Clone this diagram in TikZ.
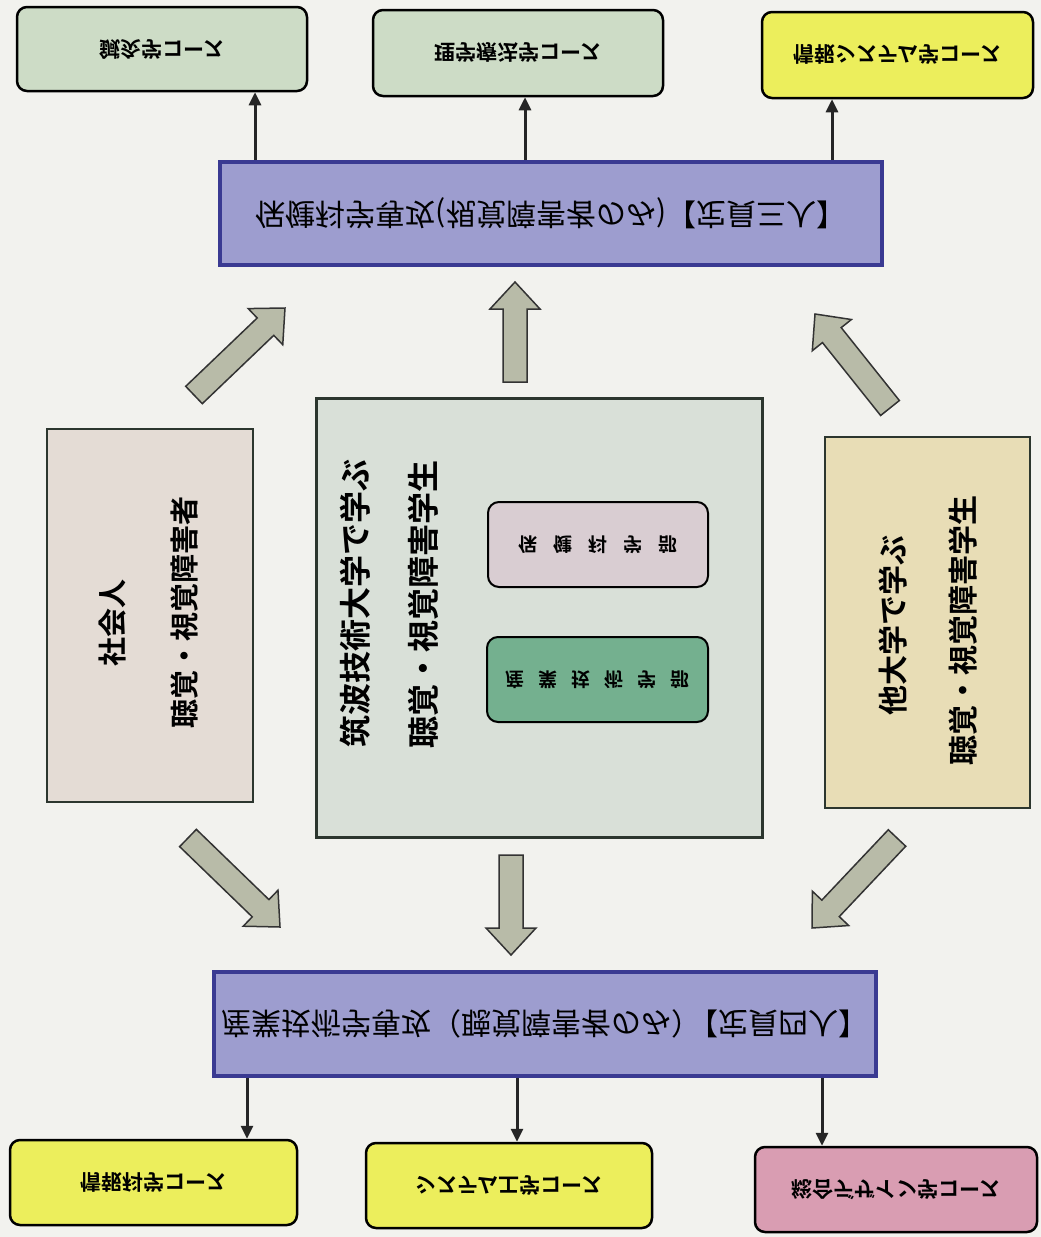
\documentclass[tikz,border=0pt]{standalone}
\usepackage{fontspec}
\usepackage{graphicx}
\usetikzlibrary{calc,arrows.meta}
\newfontfamily\jp{Noto Sans CJK JP}[BoldFont={Noto Sans CJK JP Bold}]
\definecolor{paper}{HTML}{F2F2EE}
\definecolor{greencourse}{HTML}{CDDCC6}
\definecolor{yellowcourse}{HTML}{ECEE5C}
\definecolor{pinkcourse}{HTML}{D99DB2}
\definecolor{majorfill}{HTML}{9D9DCF}
\definecolor{majorborder}{HTML}{3A3A92}
\definecolor{leftfill}{HTML}{E4DCD5}
\definecolor{rightfill}{HTML}{E8DDB6}
\definecolor{centerfill}{HTML}{D9E0D8}
\definecolor{boxborder}{HTML}{2C362E}
\definecolor{hokenfill}{HTML}{D9CDD2}
\definecolor{sangyofill}{HTML}{74B08F}
\definecolor{arrowfill}{HTML}{B8BBA8}
\newcommand{\flipv}[1]{\rotatebox[origin=c]{180}{\reflectbox{#1}}}
\newcommand{\blockarrow}[2]{%
  \coordinate (#1base) at ($(#2)!27pt!(#1)$);
  \draw[blk] ($(#1)!12pt!90:(#2)$) -- ($(#1base)!12pt!90:(#2)$) --
    ($(#1base)!25pt!90:(#2)$) -- (#2) -- ($(#1base)!25pt!-90:(#2)$) --
    ($(#1base)!12pt!-90:(#2)$) -- ($(#1)!12pt!-90:(#2)$) -- cycle;}
\begin{document}
\begin{tikzpicture}[x=1pt,y=-1pt,
  coursebox/.style={draw=black, line width=2.5pt, rounded corners=10pt, inner sep=0pt,
    font=\jp\bfseries\fontsize{21}{25}\selectfont},
  majorbox/.style={draw=majorborder, line width=4.5pt, fill=majorfill, inner sep=0pt,
    font=\jp\fontsize{30}{34}\selectfont},
  groupbox/.style={draw=boxborder, line width=1.5pt, inner sep=0pt},
  facbox/.style={draw=black, line width=2pt, rounded corners=11pt, inner sep=0pt,
    font=\jp\bfseries\fontsize{19}{23}\selectfont},
  vtext/.style={rotate=90, inner sep=0pt, font=\jp\bfseries\fontsize{29}{34}\selectfont},
  thinarrow/.style={-{Triangle[length=13pt,width=12pt]}, line width=3pt, draw=black!85},
  blk/.style={fill=arrowfill, draw=black!80, line width=1.5pt, line join=miter}]
\useasboundingbox[fill=paper] (0,0) rectangle (1041,1237);

% top courses
\node[coursebox, fill=greencourse, minimum width=290, minimum height=84] (c1) at (162,49) {\flipv{鍼灸学コース}};
\node[coursebox, fill=greencourse, minimum width=290, minimum height=86] (c2) at (518,53) {\flipv{理学療法学コース}};
\node[coursebox, fill=yellowcourse, minimum width=271, minimum height=86] (c3) at (897.5,55) {\flipv{情報システム学コース}};

% top major
\node[majorbox, minimum width=662, minimum height=103] (H) at (551,213.5) {\flipv{保健科学専攻(視覚障害者のみ)【定員三人】}};

\coordinate (xa1) at (255,0);
\coordinate (xa2) at (525,0);
\coordinate (xa3) at (832,0);
\draw[thinarrow] (xa1 |- H.north) -- (xa1 |- c1.south);
\draw[thinarrow] (xa2 |- H.north) -- (xa2 |- c2.south);
\draw[thinarrow] (xa3 |- H.north) -- (xa3 |- c3.south);

% left group
\node[groupbox, fill=leftfill, minimum width=206, minimum height=373] (L) at (150,615.5) {};
\node[vtext] (L1) at (113,623) {社会人};
\node[vtext] (L2) at (185,612) {聴覚・視覚障害者};

% center group
\node[groupbox, fill=centerfill, line width=3pt, minimum width=446, minimum height=439] (C) at (539,617.5) {};
\node[vtext, font=\jp\bfseries\fontsize{32}{36}\selectfont] (C1) at (355,603) {筑波技術大学で学ぶ};
\node[vtext, font=\jp\bfseries\fontsize{32}{36}\selectfont] (C2) at (423,604) {聴覚・視覚障害学生};
\node[facbox, fill=hokenfill, minimum width=220, minimum height=85] (P1) at (598,544.5)
  {\flipv{保\hspace{16pt}健\hspace{16pt}科\hspace{16pt}学\hspace{16pt}部}};
\node[facbox, fill=sangyofill, minimum width=221, minimum height=85] (P2) at (597.5,679.5)
  {\flipv{産\hspace{14pt}業\hspace{14pt}技\hspace{14pt}術\hspace{14pt}学\hspace{14pt}部}};

% right group
\node[groupbox, fill=rightfill, minimum width=205, minimum height=371] (R) at (927.5,622.5) {};
\node[vtext, font=\jp\bfseries\fontsize{30}{35}\selectfont] (R1) at (893,625) {他大学で学ぶ};
\node[vtext, font=\jp\bfseries\fontsize{30}{35}\selectfont] (R2) at (963,630) {聴覚・視覚障害学生};

% bottom major
\node[majorbox, minimum width=662, minimum height=104] (S) at (545,1024) {\flipv{産業技術学専攻（聴覚障害者のみ）\kern-0.45em【定員四人】}};

% bottom courses
\node[coursebox, fill=yellowcourse, minimum width=287, minimum height=85] (d1) at (153.5,1182.5) {\flipv{情報科学コース}};
\node[coursebox, fill=yellowcourse, minimum width=286, minimum height=85] (d2) at (509,1185.5) {\flipv{システム工学コース}};
\node[coursebox, fill=pinkcourse, minimum width=282, minimum height=85] (d3) at (896,1189.5) {\flipv{総合デザイン学コース}};

\coordinate (xb1) at (247,0);
\coordinate (xb2) at (517,0);
\coordinate (xb3) at (822,0);
\draw[thinarrow] (xb1 |- S.south) -- (xb1 |- d1.north);
\draw[thinarrow] (xb2 |- S.south) -- (xb2 |- d2.north);
\draw[thinarrow] (xb3 |- S.south) -- (xb3 |- d3.north);

% block arrows
\coordinate (A1t) at (194,395);  \coordinate (A1h) at (285,308);
\coordinate (A2t) at (515,382);  \coordinate (A2h) at (515,282);
\coordinate (A3t) at (890,408);  \coordinate (A3h) at (815,314);
\coordinate (A4t) at (188,838);  \coordinate (A4h) at (280,927);
\coordinate (A5t) at (511,855);  \coordinate (A5h) at (511,955);
\coordinate (A6t) at (897,838);  \coordinate (A6h) at (812,928);
\blockarrow{A1t}{A1h}
\blockarrow{A2t}{A2h}
\blockarrow{A3t}{A3h}
\blockarrow{A4t}{A4h}
\blockarrow{A5t}{A5h}
\blockarrow{A6t}{A6h}
\end{tikzpicture}
\end{document}
